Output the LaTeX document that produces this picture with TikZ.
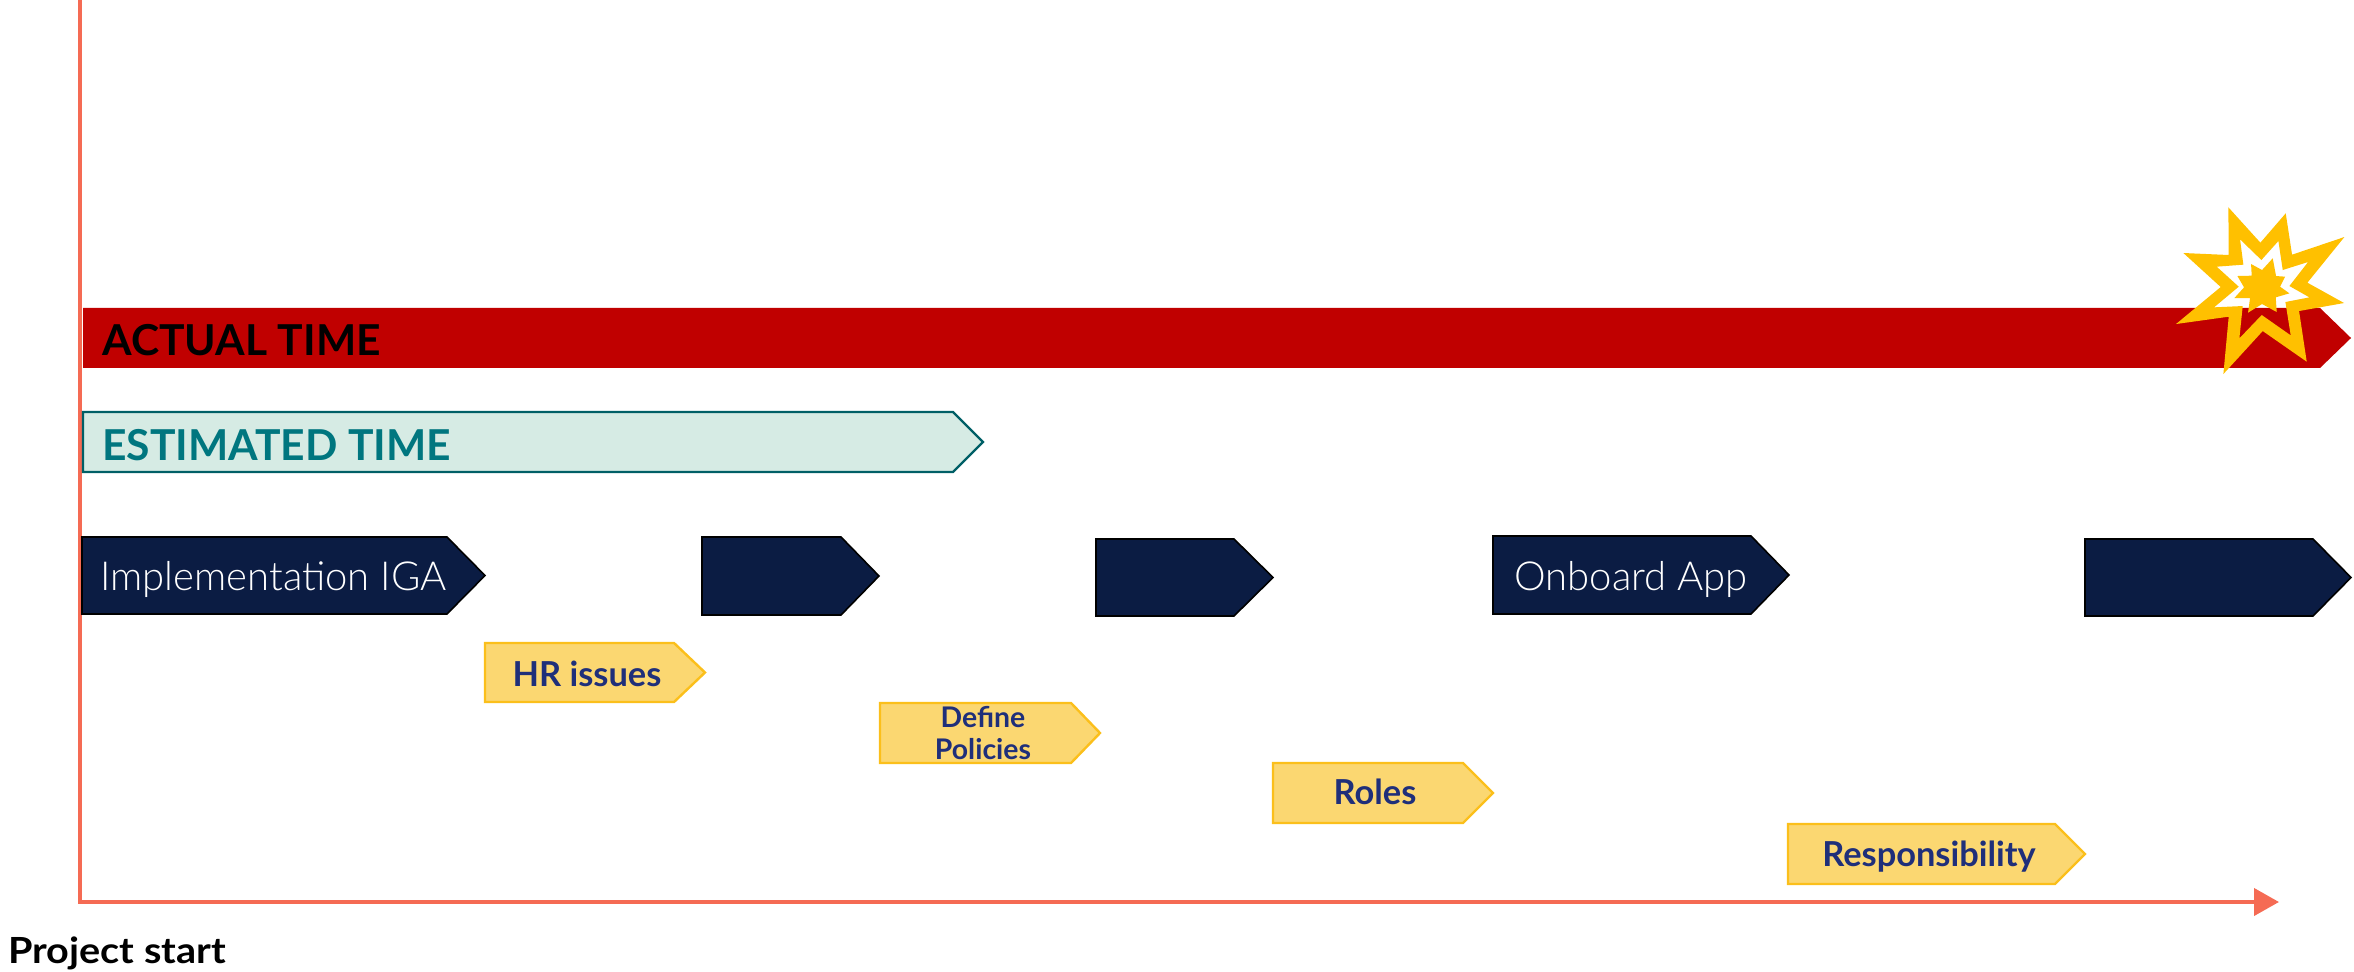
\documentclass[tikz,border=0pt]{standalone}
\usepackage{fontspec}
\setmainfont{Lato}
\newfontfamily\lightfont{Lato Light}
\newfontfamily\startfont[FakeStretch=1.1]{Lato Bold}
\usetikzlibrary{arrows.meta}
\definecolor{axisc}{HTML}{F56B54}
\definecolor{barred}{HTML}{C00000}
\definecolor{estfill}{HTML}{D6EBE4}
\definecolor{estline}{HTML}{005F66}
\definecolor{esttext}{HTML}{00767F}
\definecolor{navyfill}{HTML}{0B1C43}
\definecolor{yelfill}{HTML}{FBD771}
\definecolor{yelline}{HTML}{FBBF1B}
\definecolor{yeltext}{HTML}{1F2F7A}
\definecolor{starc}{HTML}{FFC000}
\tikzset{
  axisline/.style={draw=axisc,line width=2pt,line join=miter},
  actualbar/.style={fill=barred},
  estbar/.style={fill=estfill,draw=estline,line width=1.1pt},
  navybar/.style={fill=navyfill,draw=black,line width=.8pt},
  yelbar/.style={fill=yelfill,draw=yelline,line width=1.2pt},
  bigtext/.style={anchor=base west,inner sep=0pt,font=\bfseries\fontsize{21.3}{24}\selectfont},
  navytext/.style={anchor=base west,inner sep=0pt,text=white,font=\lightfont\fontsize{20}{24}\selectfont},
  yeltxt/.style={anchor=base,inner sep=0pt,text=yeltext,font=\bfseries\fontsize{17.2}{20}\selectfont},
  yelsmall/.style={anchor=base,inner sep=0pt,text=yeltext,font=\bfseries\fontsize{14.2}{17}\selectfont},
  starfill/.style={fill=starc},
}
% x-left, y-top, shoulder x, tip x, y-bottom, style
\newcommand{\pentagon}[6]{\path[#6] (#1,#2) -- (#3,#2) -- (#4,{(#2+#5)/2}) -- (#3,#5) -- (#1,#5) -- cycle;}
\begin{document}
\begin{tikzpicture}[x=0.5pt,y=-0.5pt]
\useasboundingbox (0,0) rectangle (2354,972);
\coordinate (axistop) at (79.5,0);
\coordinate (origin) at (79.5,902);
\coordinate (axisend) at (2279,902);
\draw[axisline,-{Triangle[length=12.5pt,width=13.5pt]}] (axistop) -- (origin) -- (axisend);

\pentagon{83}{308}{2320}{2351}{368}{actualbar}
\pentagon{83}{412}{953}{983}{472}{estbar}
\pentagon{82}{537}{447}{485}{614}{navybar}
\pentagon{702}{537}{841}{879}{615}{navybar}
\pentagon{1096}{539}{1234}{1273}{616}{navybar}
\pentagon{1493}{536}{1751}{1789}{614}{navybar}
\pentagon{2085}{539}{2313}{2351}{616}{navybar}
\pentagon{485}{643}{674}{705}{702}{yelbar}
\pentagon{880}{703}{1071}{1100}{763}{yelbar}
\pentagon{1273}{763}{1463}{1493}{823}{yelbar}
\pentagon{1788}{824}{2055}{2085}{884}{yelbar}

\begin{scope}[shift={(2100,180)},x=0.1667pt,y=-0.1667pt]
\path[starfill,even odd rule]
 (385,82)--(481,188)--(557,100)--(576,224)--(733,171)--(622,308)--(732,369)--(597,393)--(620,545)--(488,453)--(370,582)--(386,410)--(228,432)--(362,321)--(250,219)--(386,225)--cycle
 (420,178)--(484,240)--(535,183)--(548,270)--(624,246)--(568,318)--(628,352)--(556,366)--(572,466)--(485,405)--(418,475)--(428,378)--(342,382)--(416,320)--(350,260)--(430,254)--cycle;
\path[starfill]
 (518,235)--(528,288)--(555,290)--(540,320)--(568,340)--(527,352)--(530,396)--(486,372)--(444,398)--(450,354)--(403,354)--(432,322)--(412,288)--(455,287)--(453,252)--(486,270)--cycle;
\end{scope}

\node[bigtext,text=black] (actual) at (102,356) {ACTUAL TIME};
\node[bigtext,text=esttext] (estimated) at (102,461) {ESTIMATED TIME};
\node[navytext] (impl) at (100,590) {Implementation IGA};
\node[navytext] (onboard) at (1514,590) {Onboard App};
\node[yeltxt] (hr) at (587,686) {HR issues};
\node[yelsmall] (define) at (983,727) {Define};
\node[yelsmall] (policies) at (983,759) {Policies};
\node[yeltxt] (roles) at (1375,804) {Roles};
\node[yeltxt] (resp) at (1929,866) {Responsibility};
\node[anchor=base west,inner sep=0pt,font=\startfont\fontsize{18}{20}\selectfont] (start) at (8,963) {Project start};
\end{tikzpicture}
\end{document}
